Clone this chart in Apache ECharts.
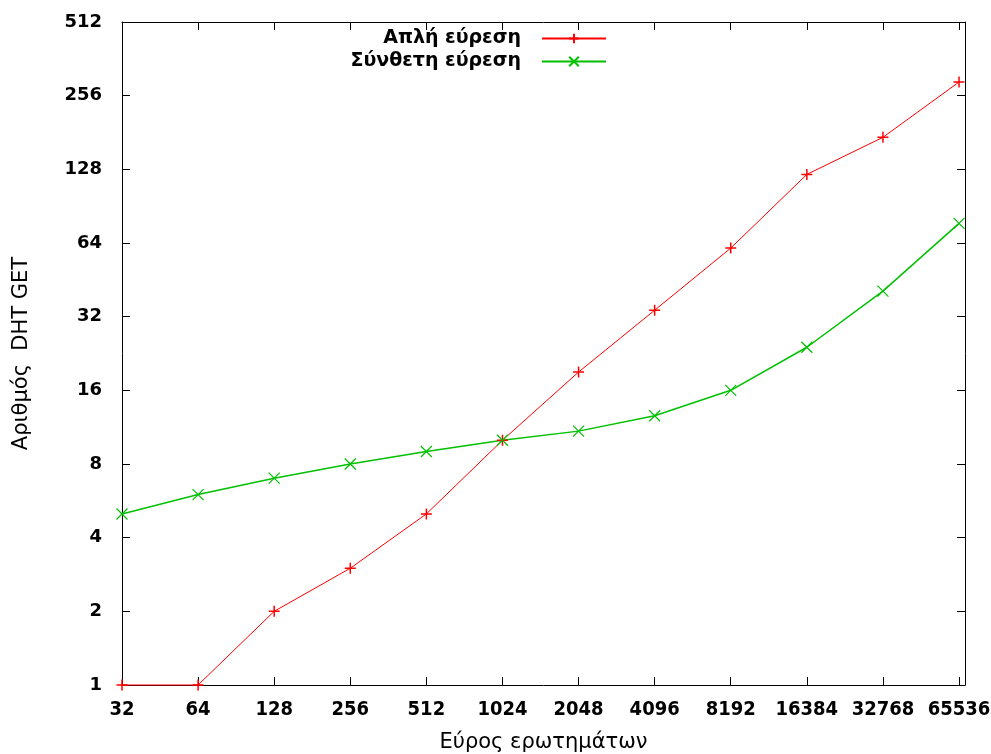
<!DOCTYPE html>
<html lang="el">
<head>
    <meta charset="UTF-8">
    <title>DHT GET</title>
    <script src="https://cdn.jsdelivr.net/npm/echarts@6/dist/echarts.min.js"></script>
    <style>
        body { margin: 0; background: #fff; }
        #main { width: 991px; height: 754px; }
    </style>
</head>
<body>
<div id="main"></div>
<script>
    // x: εύρος ερωτημάτων (log2)
    var ranges = [32, 64, 128, 256, 512, 1024, 2048, 4096, 8192, 16384, 32768, 65536];
    // y: αριθμός DHT GET
    var simpleLookup = [1, 1, 2, 3, 5, 10, 19, 34, 61, 122, 173, 291];
    var complexLookup = [5, 6, 7, 8, 9, 10, 10.9, 12.6, 16, 24, 40.7, 77];
    var yTicks = [1, 2, 4, 8, 16, 32, 64, 128, 256, 512];

    var names = ['Απλή εύρεση', 'Σύνθετη εύρεση'];

    function pairs(ys) {
        var out = [];
        for (var i = 0; i < ranges.length; i++) out.push([ranges[i], ys[i]]);
        return out;
    }

    // μόνο οι δυνάμεις του 2 παίρνουν ετικέτα
    function isPow2(v, list) {
        for (var i = 0; i < list.length; i++) {
            if (Math.abs(v - list[i]) / list[i] < 1e-6) return list[i];
        }
        return null;
    }

    var plusPath = 'path://M0,5L10,5M5,0L5,10';
    var crossPath = 'path://M0,0L10,10M10,0L0,10';

    var myChart = echarts.init(document.getElementById('main'));

    var option = {
        animation: false,
        backgroundColor: '#fff',
        textStyle: { fontFamily: 'DejaVu Sans' },
        grid: { left: 122, right: 26, top: 22, bottom: 69, outerBoundsMode: 'none', containLabel: false },
        legend: {
            orient: 'vertical',
            right: 384,
            top: 29,
            padding: 0,
            align: 'right',
            itemWidth: 64,
            itemHeight: 12,
            itemGap: 4,
            textStyle: {
                fontFamily: 'DejaVu Sans',
                fontWeight: 'bold',
                fontSize: 19,
                color: '#000',
                padding: [0, 16, 0, 0]
            },
            data: names
        },
        xAxis: [
            {
                type: 'log',
                logBase: 2,
                min: 32,
                max: 69200,
                interval: 1,
                name: 'Εύρος ερωτημάτων',
                nameLocation: 'middle',
                nameGap: 47,
                nameTextStyle: { fontFamily: 'DejaVu Sans', fontSize: 21, color: '#000' },
                axisLine: { lineStyle: { color: '#000', width: 1 } },
                axisTick: { inside: true, length: 8, lineStyle: { color: '#000' } },
                splitLine: { show: false },
                axisLabel: {
                    margin: 15,
                    showMaxLabel: false,
                    fontFamily: "'DejaVu Sans Condensed', 'DejaVu Sans'",
                    fontWeight: 'bold',
                    fontSize: 20,
                    color: '#000',
                    formatter: function (v) {
                        var p = isPow2(v, ranges);
                        return p === null ? '' : String(p);
                    }
                }
            },
            {
                type: 'log',
                logBase: 2,
                min: 32,
                max: 69200,
                interval: 1,
                position: 'top',
                axisLine: { lineStyle: { color: '#000', width: 1 } },
                axisTick: { inside: true, length: 8, lineStyle: { color: '#000' } },
                splitLine: { show: false },
                axisLabel: { show: false }
            }
        ],
        yAxis: [
            {
                type: 'log',
                logBase: 2,
                min: 1,
                max: 512,
                interval: 1,
                name: 'Αριθμός  DHT GET',
                nameLocation: 'middle',
                nameGap: 90,
                nameTextStyle: { fontFamily: 'DejaVu Sans', fontSize: 21, color: '#000' },
                axisLine: { show: true, lineStyle: { color: '#000', width: 1 } },
                axisTick: { show: true, inside: true, length: 8, lineStyle: { color: '#000' } },
                splitLine: { show: false },
                axisLabel: {
                    margin: 20,
                    fontFamily: 'DejaVu Sans',
                    fontWeight: 'bold',
                    fontSize: 18,
                    color: '#000',
                    formatter: function (v) {
                        var p = isPow2(v, yTicks);
                        return p === null ? '' : String(p);
                    }
                }
            },
            {
                type: 'log',
                logBase: 2,
                min: 1,
                max: 512,
                interval: 1,
                position: 'right',
                axisLine: { show: true, lineStyle: { color: '#000', width: 1 } },
                axisTick: { show: true, inside: true, length: 8, lineStyle: { color: '#000' } },
                splitLine: { show: false },
                axisLabel: { show: false }
            }
        ],
        series: [
            {
                name: names[0],
                type: 'line',
                data: pairs(simpleLookup),
                symbol: plusPath,
                symbolSize: 11,
                showAllSymbol: true,
                clip: false,
                lineStyle: { color: '#ff0000', width: 1 },
                itemStyle: { color: '#ff0000', borderColor: '#ff0000', borderWidth: 1.5 }
            },
            {
                name: names[1],
                type: 'line',
                data: pairs(complexLookup),
                symbol: crossPath,
                symbolSize: 11,
                showAllSymbol: true,
                clip: false,
                lineStyle: { color: '#00c000', width: 1.5 },
                itemStyle: { color: '#00c000', borderColor: '#00c000', borderWidth: 1.2 }
            }
        ]
    };

    myChart.setOption(option);
</script>
</body>
</html>
